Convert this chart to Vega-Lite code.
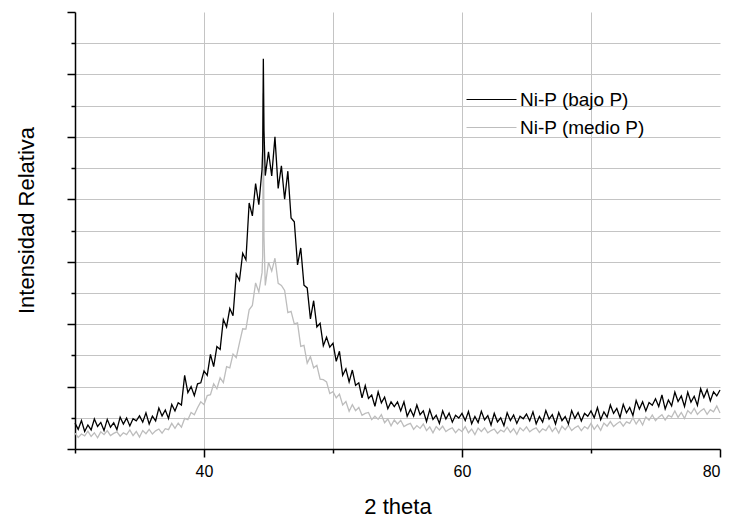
{
"$schema": "https://vega.github.io/schema/vega-lite/v6.json",
"width": 645,
"height": 437,
"autosize": "none",
"padding": {"left": 75, "top": 12, "right": 12, "bottom": 72},
"background": "white",
"config": {"view": {"stroke": null}, "font": "Liberation Sans"},
"data": {"values": [
{"x":30,"b":0.83,"m":0.51},{"x":30.25,"b":0.63,"m":0.37},{"x":30.5,"b":0.91,"m":0.48},{"x":30.75,"b":0.56,"m":0.42},
{"x":31,"b":0.77,"m":0.57},{"x":31.25,"b":0.61,"m":0.40},{"x":31.5,"b":0.96,"m":0.52},{"x":31.75,"b":0.72,"m":0.36},
{"x":32,"b":0.85,"m":0.55},{"x":32.25,"b":0.59,"m":0.46},{"x":32.5,"b":0.95,"m":0.59},{"x":32.75,"b":0.70,"m":0.43},
{"x":33,"b":0.84,"m":0.50},{"x":33.25,"b":0.62,"m":0.55},{"x":33.5,"b":1.02,"m":0.41},{"x":33.75,"b":0.80,"m":0.52},
{"x":34,"b":0.99,"m":0.46},{"x":34.25,"b":0.74,"m":0.61},{"x":34.5,"b":0.97,"m":0.43},{"x":34.75,"b":0.90,"m":0.56},
{"x":35,"b":1.06,"m":0.38},{"x":35.25,"b":0.86,"m":0.59},{"x":35.5,"b":1.16,"m":0.49},{"x":35.75,"b":0.80,"m":0.63},
{"x":36,"b":1.05,"m":0.48},{"x":36.25,"b":0.90,"m":0.58},{"x":36.5,"b":1.31,"m":0.64},{"x":36.75,"b":1.06,"m":0.51},
{"x":37,"b":1.25,"m":0.65},{"x":37.25,"b":0.98,"m":0.62},{"x":37.5,"b":1.43,"m":0.82},{"x":37.75,"b":1.22,"m":0.66},
{"x":38,"b":1.48,"m":0.83},{"x":38.25,"b":1.41,"m":0.70},{"x":38.5,"b":2.36,"m":0.98},{"x":38.75,"b":1.81,"m":0.94},
{"x":39,"b":2.00,"m":1.17},{"x":39.25,"b":1.71,"m":1.10},{"x":39.5,"b":2.09,"m":1.32},{"x":39.75,"b":2.12,"m":1.51},
{"x":40,"b":2.50,"m":1.42},{"x":40.25,"b":2.36,"m":1.71},{"x":40.5,"b":3.03,"m":1.74},{"x":40.75,"b":2.64,"m":2.09},
{"x":41,"b":3.28,"m":1.93},{"x":41.25,"b":3.19,"m":2.28},{"x":41.5,"b":4.15,"m":2.13},{"x":41.75,"b":3.91,"m":2.64},
{"x":42,"b":4.50,"m":2.60},{"x":42.25,"b":4.27,"m":3.04},{"x":42.5,"b":5.60,"m":2.93},{"x":42.75,"b":5.40,"m":3.40},
{"x":43,"b":6.27,"m":3.85},{"x":43.25,"b":6.06,"m":3.84},{"x":43.5,"b":7.88,"m":4.46},{"x":43.75,"b":7.47,"m":4.60},
{"x":44,"b":8.50,"m":5.32},{"x":44.25,"b":7.83,"m":5.03},{"x":44.5,"b":8.96,"m":5.65},{"x":44.55,"b":9.6,"m":6.2},
{"x":44.6,"b":12.5,"m":11.4},{"x":44.65,"b":10.2,"m":6.8},{"x":44.75,"b":8.76,"m":5.24},
{"x":45,"b":9.52,"m":5.98},{"x":45.25,"b":8.75,"m":5.70},{"x":45.5,"b":10.0,"m":6.11},{"x":45.75,"b":8.35,"m":5.31},
{"x":46,"b":9.07,"m":5.24},{"x":46.25,"b":8.00,"m":5.08},{"x":46.5,"b":8.90,"m":4.37},{"x":46.75,"b":7.40,"m":4.41},
{"x":47,"b":7.28,"m":4.01},{"x":47.25,"b":5.90,"m":4.04},{"x":47.5,"b":6.44,"m":3.29},{"x":47.75,"b":5.25,"m":3.32},
{"x":48,"b":5.16,"m":2.75},{"x":48.25,"b":4.17,"m":2.96},{"x":48.5,"b":4.75,"m":2.60},{"x":48.75,"b":3.91,"m":2.68},
{"x":49,"b":4.03,"m":2.24},{"x":49.25,"b":3.31,"m":2.22},{"x":49.5,"b":3.58,"m":2.15},{"x":49.75,"b":3.26,"m":1.78},
{"x":50,"b":3.39,"m":1.84},{"x":50.25,"b":2.81,"m":1.64},{"x":50.5,"b":3.13,"m":1.76},{"x":50.75,"b":2.36,"m":1.41},
{"x":51,"b":2.57,"m":1.52},{"x":51.25,"b":2.15,"m":1.21},{"x":51.5,"b":2.53,"m":1.42},{"x":51.75,"b":2.04,"m":1.23},
{"x":52,"b":2.12,"m":1.33},{"x":52.25,"b":1.64,"m":1.08},{"x":52.5,"b":2.03,"m":1.14},{"x":52.75,"b":1.62,"m":1.17},
{"x":53,"b":1.73,"m":0.94},{"x":53.25,"b":1.37,"m":1.05},{"x":53.5,"b":1.83,"m":0.95},{"x":53.75,"b":1.48,"m":1.10},
{"x":54,"b":1.66,"m":0.84},{"x":54.25,"b":1.29,"m":0.96},{"x":54.5,"b":1.51,"m":0.74},{"x":54.75,"b":1.36,"m":0.93},
{"x":55,"b":1.51,"m":0.80},{"x":55.25,"b":1.22,"m":0.92},{"x":55.5,"b":1.51,"m":0.72},{"x":55.75,"b":1.05,"m":0.78},
{"x":56,"b":1.27,"m":0.82},{"x":56.25,"b":1.05,"m":0.63},{"x":56.5,"b":1.41,"m":0.75},{"x":56.75,"b":1.10,"m":0.66},
{"x":57,"b":1.22,"m":0.80},{"x":57.25,"b":0.88,"m":0.59},{"x":57.5,"b":1.26,"m":0.71},{"x":57.75,"b":0.95,"m":0.52},
{"x":58,"b":1.08,"m":0.72},{"x":58.25,"b":0.82,"m":0.61},{"x":58.5,"b":1.22,"m":0.73},{"x":58.75,"b":0.96,"m":0.56},
{"x":59,"b":1.15,"m":0.63},{"x":59.25,"b":0.86,"m":0.68},{"x":59.5,"b":1.08,"m":0.52},{"x":59.75,"b":0.99,"m":0.64},
{"x":60,"b":1.14,"m":0.56},{"x":60.25,"b":0.91,"m":0.72},{"x":60.5,"b":1.20,"m":0.52},{"x":60.75,"b":0.81,"m":0.64},
{"x":61,"b":1.04,"m":0.46},{"x":61.25,"b":0.85,"m":0.67},{"x":61.5,"b":1.21,"m":0.56},{"x":61.75,"b":0.93,"m":0.68},
{"x":62,"b":1.07,"m":0.52},{"x":62.25,"b":0.77,"m":0.59},{"x":62.5,"b":1.14,"m":0.64},{"x":62.75,"b":0.87,"m":0.50},
{"x":63,"b":1.00,"m":0.61},{"x":63.25,"b":0.75,"m":0.55},{"x":63.5,"b":1.16,"m":0.70},{"x":63.75,"b":0.91,"m":0.53},
{"x":64,"b":1.09,"m":0.65},{"x":64.25,"b":0.82,"m":0.47},{"x":64.5,"b":1.05,"m":0.68},{"x":64.75,"b":0.97,"m":0.58},
{"x":65,"b":1.12,"m":0.71},{"x":65.25,"b":0.90,"m":0.55},{"x":65.5,"b":1.19,"m":0.63},{"x":65.75,"b":0.81,"m":0.68},
{"x":66,"b":1.04,"m":0.53},{"x":66.25,"b":0.86,"m":0.65},{"x":66.5,"b":1.23,"m":0.59},{"x":66.75,"b":0.96,"m":0.75},
{"x":67,"b":1.10,"m":0.56},{"x":67.25,"b":0.80,"m":0.69},{"x":67.5,"b":1.17,"m":0.51},{"x":67.75,"b":0.91,"m":0.73},
{"x":68,"b":1.04,"m":0.62},{"x":68.25,"b":0.80,"m":0.76},{"x":68.5,"b":1.23,"m":0.59},{"x":68.75,"b":0.98,"m":0.68},
{"x":69,"b":1.17,"m":0.74},{"x":69.25,"b":0.90,"m":0.59},{"x":69.5,"b":1.14,"m":0.72},{"x":69.75,"b":1.05,"m":0.65},
{"x":70,"b":1.22,"m":0.82},{"x":70.25,"b":1.00,"m":0.63},{"x":70.5,"b":1.33,"m":0.77},{"x":70.75,"b":0.94,"m":0.60},
{"x":71,"b":1.19,"m":0.83},{"x":71.25,"b":1.02,"m":0.73},{"x":71.5,"b":1.41,"m":0.88},{"x":71.75,"b":1.14,"m":0.72},
{"x":72,"b":1.30,"m":0.81},{"x":72.25,"b":1.01,"m":0.88},{"x":72.5,"b":1.43,"m":0.73},{"x":72.75,"b":1.16,"m":0.87},
{"x":73,"b":1.33,"m":0.82},{"x":73.25,"b":1.07,"m":1.00},{"x":73.5,"b":1.55,"m":0.80},{"x":73.75,"b":1.28,"m":0.96},
{"x":74,"b":1.51,"m":0.77},{"x":74.25,"b":1.22,"m":1.03},{"x":74.5,"b":1.49,"m":0.92},{"x":74.75,"b":1.40,"m":1.09},
{"x":75,"b":1.61,"m":0.91},{"x":75.25,"b":1.36,"m":1.02},{"x":75.5,"b":1.73,"m":1.10},{"x":75.75,"b":1.28,"m":0.93},
{"x":76,"b":1.57,"m":1.08},{"x":76.25,"b":1.38,"m":1.02},{"x":76.5,"b":1.82,"m":1.22},{"x":76.75,"b":1.52,"m":1.01},
{"x":77,"b":1.70,"m":1.17},{"x":77.25,"b":1.36,"m":0.98},{"x":77.5,"b":1.82,"m":1.23},{"x":77.75,"b":1.50,"m":1.13},
{"x":78,"b":1.69,"m":1.30},{"x":78.25,"b":1.40,"m":1.11},{"x":78.5,"b":1.93,"m":1.22},{"x":78.75,"b":1.65,"m":1.29},
{"x":79,"b":1.90,"m":1.11},{"x":79.25,"b":1.54,"m":1.26},{"x":79.5,"b":1.83,"m":1.19},{"x":79.75,"b":1.70,"m":1.38},
{"x":80,"b":1.89,"m":1.15}
]},
"transform": [{"fold": ["b", "m"], "as": ["serie", "v"]}],
"encoding": {
  "x": {"field": "x", "type": "quantitative",
    "scale": {"domain": [30, 80], "nice": false, "zero": false},
    "axis": {"title": "2 theta", "values": [30, 40, 50, 60, 70, 80],
      "labelExpr": "datum.value % 20 == 0 ? datum.label : ''",
      "labelFontSize": 16, "labelColor": "#000", "labelPadding": 6,
      "tickSize": {"condition": {"test": "datum.value % 20 == 0", "value": 8}, "value": 4},
      "tickColor": "#000", "tickWidth": 1.5, "domainColor": "#000", "domainWidth": 1.5,
      "grid": true, "gridColor": "#c4c4c4", "gridWidth": 1,
      "gridOpacity": {"condition": {"test": "datum.value == 80 || datum.value == 30", "value": 0}, "value": 1},
      "titleFontSize": 22, "titleFontWeight": "normal", "titleColor": "#000",
      "titleY": 64, "titleBaseline": "alphabetic"}},
  "y": {"field": "v", "type": "quantitative",
    "scale": {"domain": [0, 14], "nice": false, "zero": false},
    "axis": {"title": "Intensidad Relativa", "values": [0,1,2,3,4,5,6,7,8,9,10,11,12,13,14],
      "labels": false,
      "tickSize": {"condition": {"test": "datum.value % 2 == 0", "value": 8}, "value": 4},
      "tickColor": "#000", "tickWidth": 1.5, "domainColor": "#000", "domainWidth": 1.5,
      "grid": true, "gridColor": "#c4c4c4", "gridWidth": 1,
      "gridOpacity": {"condition": {"test": "datum.value == 14 || datum.value == 0", "value": 0}, "value": 1},
      "titleFontSize": 22, "titleFontWeight": "normal", "titleColor": "#000",
      "titleX": -42, "titleY": 208, "titleAngle": 270, "titleAlign": "center", "titleBaseline": "alphabetic"}},
  "color": {"field": "serie", "type": "nominal",
    "scale": {"domain": ["b", "m"], "range": ["#000000", "#bdbdbd"]},
    "legend": {"title": null, "orient": "none", "legendX": 407, "legendY": 78,
      "symbolType": "M-5,0H5", "symbolSize": 100, "symbolStrokeWidth": 1.2,
      "labelFontSize": 19, "labelColor": "#000", "labelOffset": 19, "rowPadding": 8, "padding": 0,
      "labelExpr": "datum.value == 'b' ? 'Ni-P (bajo P)' : 'Ni-P (medio P)'"}}
},
"layer": [
  {"transform": [{"filter": "datum.serie == 'm'"}], "mark": {"type": "line", "strokeWidth": 1.3}},
  {"transform": [{"filter": "datum.serie == 'b'"}], "mark": {"type": "line", "strokeWidth": 1.3}}
]
}
